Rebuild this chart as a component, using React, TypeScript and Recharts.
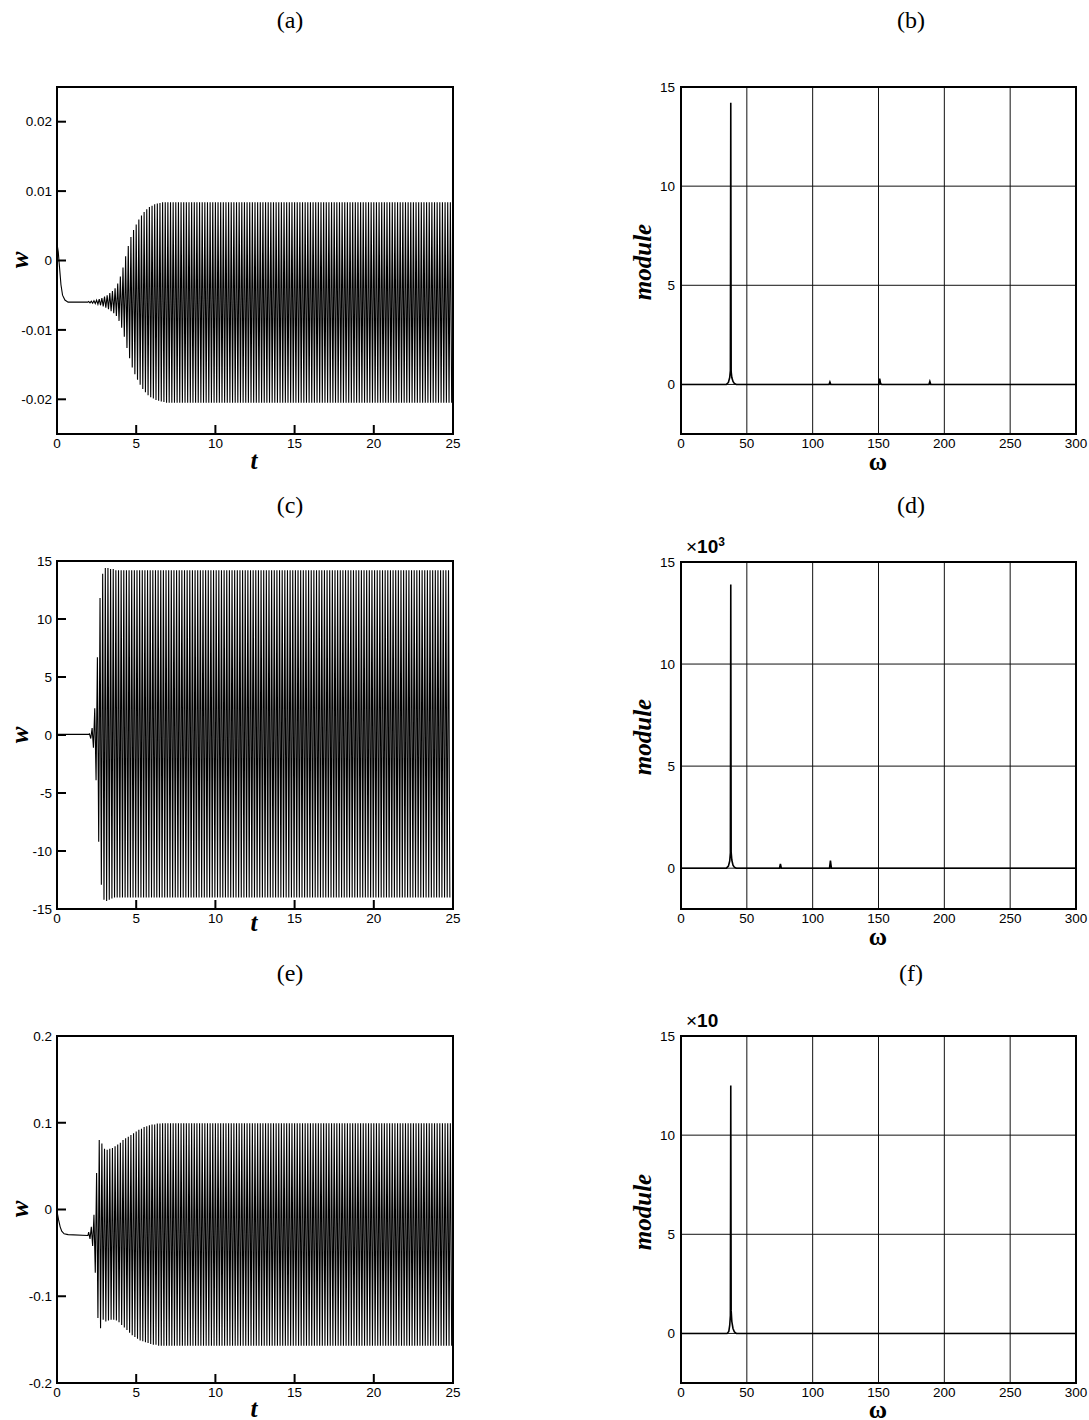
import { LineChart, Line, XAxis, YAxis, ReferenceArea, CartesianGrid } from "recharts";

// ---- time histories: extrema of each oscillation cycle ----
// one cycle per 1/6 time unit (peak at ω ≈ 37.7 in the spectra)
const cyclePeriod = 1 / 6;
const tTicks = [0, 5, 10, 15, 20, 25];

// (a)
const leadTA = [0, 0.08, 0.16, 0.25, 0.35, 0.5, 0.7, 1.95];
const leadWA = [0.0024, 0.0012, -0.001, -0.0035, -0.005, -0.0057, -0.006, -0.006];
const startA = 2.0;
const upperA = [
  -0.0059, -0.00585, -0.0058, -0.0057, -0.00555, -0.0054, -0.0052, -0.005, -0.0047, -0.0044,
  -0.004, -0.0033, -0.0023, -0.001, 0.0006, 0.0021, 0.0034, 0.0044, 0.0052, 0.0059,
  0.0065, 0.007, 0.0074, 0.0077, 0.0079, 0.0081, 0.0082, 0.0083, 0.0084, 0.0084,
  0.0084, 0.0084, 0.0084, 0.0084, 0.0084, 0.0084, 0.0084, 0.0084, 0.0084, 0.0084, 0.0084, 0.0084, 0.0084, 0.0084, 0.0084, 0.0084, 0.0084, 0.0084,
  0.0084, 0.0084, 0.0084, 0.0084, 0.0084, 0.0084, 0.0084, 0.0084, 0.0084, 0.0084, 0.0084, 0.0084, 0.0084, 0.0084, 0.0084, 0.0084, 0.0084, 0.0084,
  0.0084, 0.0084, 0.0084, 0.0084, 0.0084, 0.0084, 0.0084, 0.0084, 0.0084, 0.0084, 0.0084, 0.0084, 0.0084, 0.0084, 0.0084, 0.0084, 0.0084, 0.0084,
  0.0084, 0.0084, 0.0084, 0.0084, 0.0084, 0.0084, 0.0084, 0.0084, 0.0084, 0.0084, 0.0084, 0.0084, 0.0084, 0.0084, 0.0084, 0.0084, 0.0084, 0.0084,
  0.0084, 0.0084, 0.0084, 0.0084, 0.0084, 0.0084, 0.0084, 0.0084, 0.0084, 0.0084, 0.0084, 0.0084, 0.0084, 0.0084, 0.0084, 0.0084, 0.0084, 0.0084,
  0.0084, 0.0084, 0.0084, 0.0084, 0.0084, 0.0084, 0.0084, 0.0084, 0.0084, 0.0084, 0.0084, 0.0084, 0.0084, 0.0084, 0.0084, 0.0084, 0.0084, 0.0084,
];
const lowerA = [
  -0.0061, -0.00615, -0.0062, -0.0063, -0.00645, -0.0066, -0.0068, -0.007, -0.0073, -0.0076,
  -0.008, -0.0087, -0.0097, -0.011, -0.0126, -0.0141, -0.0154, -0.0164, -0.0172, -0.0179,
  -0.0185, -0.019, -0.0194, -0.0197, -0.0199, -0.0201, -0.0202, -0.0203, -0.0204, -0.0205,
  -0.0205, -0.0205, -0.0205, -0.0205, -0.0205, -0.0205, -0.0205, -0.0205, -0.0205, -0.0205, -0.0205, -0.0205, -0.0205, -0.0205, -0.0205, -0.0205, -0.0205, -0.0205,
  -0.0205, -0.0205, -0.0205, -0.0205, -0.0205, -0.0205, -0.0205, -0.0205, -0.0205, -0.0205, -0.0205, -0.0205, -0.0205, -0.0205, -0.0205, -0.0205, -0.0205, -0.0205,
  -0.0205, -0.0205, -0.0205, -0.0205, -0.0205, -0.0205, -0.0205, -0.0205, -0.0205, -0.0205, -0.0205, -0.0205, -0.0205, -0.0205, -0.0205, -0.0205, -0.0205, -0.0205,
  -0.0205, -0.0205, -0.0205, -0.0205, -0.0205, -0.0205, -0.0205, -0.0205, -0.0205, -0.0205, -0.0205, -0.0205, -0.0205, -0.0205, -0.0205, -0.0205, -0.0205, -0.0205,
  -0.0205, -0.0205, -0.0205, -0.0205, -0.0205, -0.0205, -0.0205, -0.0205, -0.0205, -0.0205, -0.0205, -0.0205, -0.0205, -0.0205, -0.0205, -0.0205, -0.0205, -0.0205,
  -0.0205, -0.0205, -0.0205, -0.0205, -0.0205, -0.0205, -0.0205, -0.0205, -0.0205, -0.0205, -0.0205, -0.0205, -0.0205, -0.0205, -0.0205, -0.0205, -0.0205, -0.0205,
];

// (c)
const leadTC = [0, 1.0, 2.0];
const leadWC = [0.05, 0.05, 0.05];
const startC = 2.05;
const upperC = [
  0.1, 0.6, 2.3, 6.7, 11.8, 13.9, 14.4, 14.4, 14.3, 14.3, 14.2,
  14.2, 14.2, 14.2, 14.2, 14.2, 14.2, 14.2, 14.2, 14.2, 14.2, 14.2, 14.2, 14.2, 14.2, 14.2, 14.2, 14.2, 14.2,
  14.2, 14.2, 14.2, 14.2, 14.2, 14.2, 14.2, 14.2, 14.2, 14.2, 14.2, 14.2, 14.2, 14.2, 14.2, 14.2, 14.2, 14.2,
  14.2, 14.2, 14.2, 14.2, 14.2, 14.2, 14.2, 14.2, 14.2, 14.2, 14.2, 14.2, 14.2, 14.2, 14.2, 14.2, 14.2, 14.2,
  14.2, 14.2, 14.2, 14.2, 14.2, 14.2, 14.2, 14.2, 14.2, 14.2, 14.2, 14.2, 14.2, 14.2, 14.2, 14.2, 14.2, 14.2,
  14.2, 14.2, 14.2, 14.2, 14.2, 14.2, 14.2, 14.2, 14.2, 14.2, 14.2, 14.2, 14.2, 14.2, 14.2, 14.2, 14.2, 14.2,
  14.2, 14.2, 14.2, 14.2, 14.2, 14.2, 14.2, 14.2, 14.2, 14.2, 14.2, 14.2, 14.2, 14.2, 14.2, 14.2, 14.2, 14.2,
  14.2, 14.2, 14.2, 14.2, 14.2, 14.2, 14.2, 14.2, 14.2, 14.2, 14.2, 14.2, 14.2, 14.2, 14.2, 14.2, 14.2, 14.2,
];
const lowerC = [
  -0.3, -1.1, -3.9, -9.2, -12.9, -14.2, -14.3, -14.2, -14.1, -14.0, -14.0,
  -14.0, -14.0, -14.0, -14.0, -14.0, -14.0, -14.0, -14.0, -14.0, -14.0, -14.0, -14.0, -14.0, -14.0, -14.0, -14.0, -14.0, -14.0,
  -14.0, -14.0, -14.0, -14.0, -14.0, -14.0, -14.0, -14.0, -14.0, -14.0, -14.0, -14.0, -14.0, -14.0, -14.0, -14.0, -14.0, -14.0,
  -14.0, -14.0, -14.0, -14.0, -14.0, -14.0, -14.0, -14.0, -14.0, -14.0, -14.0, -14.0, -14.0, -14.0, -14.0, -14.0, -14.0, -14.0,
  -14.0, -14.0, -14.0, -14.0, -14.0, -14.0, -14.0, -14.0, -14.0, -14.0, -14.0, -14.0, -14.0, -14.0, -14.0, -14.0, -14.0, -14.0,
  -14.0, -14.0, -14.0, -14.0, -14.0, -14.0, -14.0, -14.0, -14.0, -14.0, -14.0, -14.0, -14.0, -14.0, -14.0, -14.0, -14.0, -14.0,
  -14.0, -14.0, -14.0, -14.0, -14.0, -14.0, -14.0, -14.0, -14.0, -14.0, -14.0, -14.0, -14.0, -14.0, -14.0, -14.0, -14.0, -14.0,
  -14.0, -14.0, -14.0, -14.0, -14.0, -14.0, -14.0, -14.0, -14.0, -14.0, -14.0, -14.0, -14.0, -14.0, -14.0, -14.0, -14.0, -14.0,
];

// (e)
const leadTE = [0, 0.1, 0.2, 0.3, 0.45, 0.7, 1.95];
const leadWE = [-0.002, -0.012, -0.02, -0.025, -0.028, -0.029, -0.03];
const startE = 2.0;
const upperE = [
  -0.026, -0.02, -0.006, 0.042, 0.08, 0.076, 0.07, 0.069, 0.07, 0.071,
  0.073, 0.075, 0.077, 0.08, 0.082, 0.084, 0.086, 0.088, 0.09, 0.092,
  0.093, 0.095, 0.096, 0.097, 0.098, 0.098, 0.099, 0.099,
  0.0995, 0.0995, 0.0995, 0.0995, 0.0995, 0.0995, 0.0995, 0.0995, 0.0995, 0.0995, 0.0995, 0.0995, 0.0995, 0.0995, 0.0995, 0.0995, 0.0995, 0.0995, 0.0995, 0.0995, 0.0995, 0.0995,
  0.0995, 0.0995, 0.0995, 0.0995, 0.0995, 0.0995, 0.0995, 0.0995, 0.0995, 0.0995, 0.0995, 0.0995, 0.0995, 0.0995, 0.0995, 0.0995, 0.0995, 0.0995, 0.0995, 0.0995, 0.0995, 0.0995,
  0.0995, 0.0995, 0.0995, 0.0995, 0.0995, 0.0995, 0.0995, 0.0995, 0.0995, 0.0995, 0.0995, 0.0995, 0.0995, 0.0995, 0.0995, 0.0995, 0.0995, 0.0995, 0.0995, 0.0995, 0.0995, 0.0995,
  0.0995, 0.0995, 0.0995, 0.0995, 0.0995, 0.0995, 0.0995, 0.0995, 0.0995, 0.0995, 0.0995, 0.0995, 0.0995, 0.0995, 0.0995, 0.0995, 0.0995, 0.0995, 0.0995, 0.0995, 0.0995, 0.0995,
  0.0995, 0.0995, 0.0995, 0.0995, 0.0995, 0.0995, 0.0995, 0.0995, 0.0995, 0.0995, 0.0995, 0.0995, 0.0995, 0.0995, 0.0995, 0.0995, 0.0995, 0.0995, 0.0995, 0.0995, 0.0995, 0.0995,
];
const lowerE = [
  -0.034, -0.042, -0.073, -0.125, -0.137, -0.127, -0.129, -0.128, -0.127, -0.127,
  -0.128, -0.13, -0.133, -0.136, -0.139, -0.142, -0.145, -0.147, -0.149, -0.151,
  -0.152, -0.153, -0.154, -0.155, -0.156, -0.156, -0.157, -0.157,
  -0.157, -0.157, -0.157, -0.157, -0.157, -0.157, -0.157, -0.157, -0.157, -0.157, -0.157, -0.157, -0.157, -0.157, -0.157, -0.157, -0.157, -0.157, -0.157, -0.157, -0.157, -0.157,
  -0.157, -0.157, -0.157, -0.157, -0.157, -0.157, -0.157, -0.157, -0.157, -0.157, -0.157, -0.157, -0.157, -0.157, -0.157, -0.157, -0.157, -0.157, -0.157, -0.157, -0.157, -0.157,
  -0.157, -0.157, -0.157, -0.157, -0.157, -0.157, -0.157, -0.157, -0.157, -0.157, -0.157, -0.157, -0.157, -0.157, -0.157, -0.157, -0.157, -0.157, -0.157, -0.157, -0.157, -0.157,
  -0.157, -0.157, -0.157, -0.157, -0.157, -0.157, -0.157, -0.157, -0.157, -0.157, -0.157, -0.157, -0.157, -0.157, -0.157, -0.157, -0.157, -0.157, -0.157, -0.157, -0.157, -0.157,
  -0.157, -0.157, -0.157, -0.157, -0.157, -0.157, -0.157, -0.157, -0.157, -0.157, -0.157, -0.157, -0.157, -0.157, -0.157, -0.157, -0.157, -0.157, -0.157, -0.157, -0.157, -0.157,
];

// ---- spectra ----
const omegaTicks = [0, 50, 100, 150, 200, 250, 300];
const moduleTicks = [0, 5, 10, 15];

const omegaB = [0, 34.5, 36, 37, 37.5, 37.8, 38.1, 38.6, 39.5, 40.5, 42, 112.4, 113.1, 113.8, 150.2, 150.9, 151.6, 152.4, 188.3, 189, 189.7, 300];
const moduleB = [0, 0, 0.1, 0.35, 0.7, 14.2, 0.65, 0.35, 0.15, 0.05, 0, 0, 0.12, 0, 0, 0.29, 0.04, 0, 0, 0.15, 0, 0];

const omegaD = [0, 34.5, 36, 37, 37.5, 37.8, 38.1, 38.6, 39.5, 40.5, 42, 74.8, 75.5, 76.2, 112.8, 113.5, 114.2, 300];
const moduleD = [0, 0, 0.1, 0.35, 0.75, 13.9, 0.78, 0.4, 0.15, 0.05, 0, 0, 0.21, 0, 0, 0.37, 0, 0];

const omegaF = [0, 35, 36.3, 37, 37.5, 37.8, 38.1, 38.6, 39.5, 40.5, 42, 300];
const moduleF = [0, 0, 0.1, 0.4, 0.9, 12.5, 1.15, 0.6, 0.25, 0.08, 0, 0];

type Pt = { x: number; y: number };

function historyTable(leadT: number[], leadW: number[], start: number, upper: number[], lower: number[]): Pt[] {
  const rows: Pt[] = leadT.map((t, i) => ({ x: t, y: leadW[i] }));
  upper.forEach((u, i) => {
    rows.push({ x: start + i * cyclePeriod, y: u });
    rows.push({ x: start + (i + 0.5) * cyclePeriod, y: lower[i] });
  });
  return rows.filter((r) => r.x <= 25);
}

function spectrumTable(om: number[], mod: number[]): Pt[] {
  return om.map((o, i) => ({ x: o, y: mod[i] }));
}

const SANS = "'Liberation Sans', Arial, Helvetica, sans-serif";
const SERIF = "'Liberation Serif', 'Times New Roman', serif";
const TICK_FS = 13.5;
const tickFont = { fontFamily: SANS, fontSize: TICK_FS, fill: "#000" };
const titleFont = { fontFamily: SERIF, fontWeight: 700, fontStyle: "italic" as const, fontSize: 25 };

type Box = { x: number; y: number; w: number; h: number };
const ML = 60;
const MT = 30;
const MR = 30;
const MB = 50;
const TICK_LEN = 9;

// tick label plus an inward tick mark, as in the original plots
function LeftTick(props: any) {
  const { x, y, payload } = props;
  return (
    <g>
      <line x1={ML} x2={ML + TICK_LEN} y1={y} y2={y} stroke="#000" strokeWidth={2} />
      <text x={x} y={y} dy="0.355em" textAnchor="end" {...tickFont}>
        {payload.value}
      </text>
    </g>
  );
}

function BottomTick(props: any) {
  const { x, y, payload, plotBottom } = props;
  return (
    <g>
      <line x1={x} x2={x} y1={plotBottom} y2={plotBottom - TICK_LEN} stroke="#000" strokeWidth={2} />
      <text x={x} y={y} dy="0.71em" textAnchor="middle" {...tickFont}>
        {payload.value}
      </text>
    </g>
  );
}

function HistoryPanel({ box, data, yDomain, yTicks }: { box: Box; data: Pt[]; yDomain: [number, number]; yTicks: number[] }) {
  const plotBottom = MT + box.h;
  return (
    <div style={{ position: "absolute", left: box.x - ML, top: box.y - MT }}>
      <LineChart width={box.w + ML + MR} height={box.h + MT + MB} data={data} margin={{ top: MT, right: MR, left: 0, bottom: 0 }}>
        <XAxis
          dataKey="x"
          type="number"
          domain={[0, 25]}
          ticks={tTicks}
          interval={0}
          height={MB}
          axisLine={false}
          tickLine={false}
          tickSize={0}
          tickMargin={4}
          tick={(p: any) => <BottomTick {...p} plotBottom={plotBottom} />}
          allowDataOverflow
        />
        <YAxis
          type="number"
          domain={yDomain}
          ticks={yTicks}
          interval={0}
          width={ML}
          axisLine={false}
          tickLine={false}
          tickSize={0}
          tickMargin={5}
          tick={(p: any) => <LeftTick {...p} />}
          allowDataOverflow
        />
        <Line dataKey="y" type="linear" dot={false} stroke="#000" strokeWidth={1.1} isAnimationActive={false} />
        <ReferenceArea x1={0} x2={25} y1={yDomain[0]} y2={yDomain[1]} fill="none" stroke="#000" strokeWidth={2} ifOverflow="visible" />
      </LineChart>
    </div>
  );
}

function SpectrumPanel({ box, data, yDomain }: { box: Box; data: Pt[]; yDomain: [number, number] }) {
  return (
    <div style={{ position: "absolute", left: box.x - ML, top: box.y - MT }}>
      <LineChart width={box.w + ML + MR} height={box.h + MT + MB} data={data} margin={{ top: MT, right: MR, left: 0, bottom: 0 }}>
        <CartesianGrid stroke="#111" strokeWidth={1} />
        <XAxis
          dataKey="x"
          type="number"
          domain={[0, 300]}
          ticks={omegaTicks}
          interval={0}
          height={MB}
          axisLine={false}
          tickLine={false}
          tickSize={0}
          tickMargin={4}
          tick={tickFont}
          allowDataOverflow
        />
        <YAxis
          type="number"
          domain={yDomain}
          ticks={moduleTicks}
          interval={0}
          width={ML}
          axisLine={false}
          tickLine={false}
          tickSize={0}
          tickMargin={6}
          tick={tickFont}
          allowDataOverflow
        />
        <Line dataKey="y" type="linear" dot={false} stroke="#000" strokeWidth={1.6} isAnimationActive={false} />
        <ReferenceArea x1={0} x2={300} y1={yDomain[0]} y2={yDomain[1]} fill="none" stroke="#000" strokeWidth={2} ifOverflow="visible" />
      </LineChart>
    </div>
  );
}

// text centred on (x, y); a tight line box keeps it clear of the tick labels
function Txt({ x, y, children, style, rotate }: { x: number; y: number; children: any; style?: any; rotate?: boolean }) {
  return (
    <div
      style={{
        position: "absolute",
        left: x,
        top: y,
        transform: `translate(-50%, -50%)${rotate ? " rotate(-90deg)" : ""}`,
        whiteSpace: "nowrap",
        lineHeight: "14px",
        ...style,
      }}
    >
      {children}
    </div>
  );
}

const panelFont = { fontFamily: SERIF, fontSize: 24, lineHeight: "24px" };
const multFont = { fontFamily: SANS, fontSize: 19, lineHeight: "19px" };

export default function App() {
  const boxA = { x: 57, y: 87, w: 396, h: 347 };
  const boxB = { x: 681, y: 87, w: 395, h: 347 };
  const boxC = { x: 57, y: 561, w: 396, h: 348 };
  const boxD = { x: 681, y: 562, w: 395, h: 347 };
  const boxE = { x: 57, y: 1036, w: 396, h: 347 };
  const boxF = { x: 681, y: 1036, w: 395, h: 347 };

  return (
    <div style={{ position: "absolute", left: 0, top: 0, width: 1089, height: 1420, background: "#fff", overflow: "hidden" }}>
      <Txt x={290} y={20} style={panelFont}>(a)</Txt>
      <Txt x={911} y={20} style={panelFont}>(b)</Txt>
      <Txt x={290} y={505} style={panelFont}>(c)</Txt>
      <Txt x={911} y={505} style={panelFont}>(d)</Txt>
      <Txt x={290} y={973} style={panelFont}>(e)</Txt>
      <Txt x={911} y={973} style={panelFont}>(f)</Txt>

      <HistoryPanel box={boxA} data={historyTable(leadTA, leadWA, startA, upperA, lowerA)} yDomain={[-0.025, 0.025]} yTicks={[-0.02, -0.01, 0, 0.01, 0.02]} />
      <SpectrumPanel box={boxB} data={spectrumTable(omegaB, moduleB)} yDomain={[-2.5, 15]} />
      <HistoryPanel box={boxC} data={historyTable(leadTC, leadWC, startC, upperC, lowerC)} yDomain={[-15, 15]} yTicks={[-15, -10, -5, 0, 5, 10, 15]} />
      <SpectrumPanel box={boxD} data={spectrumTable(omegaD, moduleD)} yDomain={[-2, 15]} />
      <HistoryPanel box={boxE} data={historyTable(leadTE, leadWE, startE, upperE, lowerE)} yDomain={[-0.2, 0.2]} yTicks={[-0.2, -0.1, 0, 0.1, 0.2]} />
      <SpectrumPanel box={boxF} data={spectrumTable(omegaF, moduleF)} yDomain={[-2.5, 15]} />

      {/* axis titles */}
      <Txt x={20} y={260} style={titleFont} rotate>w</Txt>
      <Txt x={254} y={461} style={titleFont}>t</Txt>
      <Txt x={643} y={262} style={titleFont} rotate>module</Txt>
      <Txt x={878} y={462} style={{ ...titleFont, fontStyle: "normal" }}>ω</Txt>

      <Txt x={20} y={735} style={titleFont} rotate>w</Txt>
      <Txt x={254} y={923} style={titleFont}>t</Txt>
      <Txt x={643} y={737} style={titleFont} rotate>module</Txt>
      <Txt x={878} y={937} style={{ ...titleFont, fontStyle: "normal" }}>ω</Txt>

      <Txt x={20} y={1209} style={titleFont} rotate>w</Txt>
      <Txt x={254} y={1409} style={titleFont}>t</Txt>
      <Txt x={643} y={1212} style={titleFont} rotate>module</Txt>
      <Txt x={878} y={1410} style={{ ...titleFont, fontStyle: "normal" }}>ω</Txt>

      {/* scale multipliers */}
      <div style={{ position: "absolute", left: 686, top: 537, ...multFont }}>
        ×<b>10</b>
        <sup style={{ fontSize: 12, fontWeight: 700, lineHeight: 0 }}>3</sup>
      </div>
      <div style={{ position: "absolute", left: 686, top: 1011, ...multFont }}>
        ×<b>10</b>
      </div>
    </div>
  );
}
